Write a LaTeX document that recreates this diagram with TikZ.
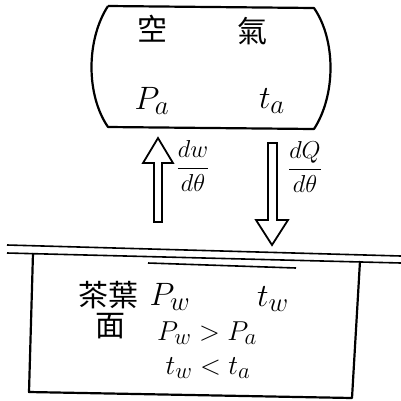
\documentclass[tikz,border=0pt]{standalone}
\usepackage{fontspec}
\newfontfamily\cjk{Noto Sans CJK TC}
\newcommand{\sclmath}[2]{\scalebox{#1}{$#2$}}
\newcommand{\sclcjk}[1]{\scalebox{1.25}{\cjk #1}}
\begin{document}
\begin{tikzpicture}[x=1pt,y=-1pt,
  edge/.style={line width=2.2pt,line join=round},
  thin/.style={line width=1.6pt},
  barrow/.style={line width=1.8pt,line join=miter,fill=white},
  cjkl/.style={font=\fontsize{24}{24}\selectfont,inner sep=0pt},
  mlab/.style={font=\fontsize{24.88}{25}\selectfont,inner sep=0pt},
  flab/.style={font=\fontsize{20.74}{21}\selectfont,inner sep=0pt}]
\useasboundingbox (0,0) rectangle (401,400);
% air box
\draw[edge] (108,6) -- (314,8) .. controls (336,40) and (336,95) .. (314,129)
  -- (108,127) .. controls (86,95) and (86,40) .. (108,6);
\node[cjkl] (kong) at (152,29) {\sclcjk{空}};
\node[cjkl] (qi) at (252,31) {\sclcjk{氣}};
\node[mlab] (pa) at (152,101) {\sclmath{1.3}{P_a}};
\node[mlab] (ta) at (272,101) {\sclmath{1.3}{t_a}};
% arrows
\draw[barrow] (158,138) -- (173,163) -- (162,163) -- (162,222) -- (154,222)
  -- (154,163) -- (143,163) -- cycle;
\draw[barrow] (272,245) -- (288,220) -- (277,220) -- (277,143) -- (268,143)
  -- (268,220) -- (256,220) -- cycle;
\node[flab] (dw) at (193,166) {\sclmath{1.18}{\displaystyle\frac{dw}{d\theta}}};
\node[flab] (dq) at (305,167) {\sclmath{1.18}{\displaystyle\frac{dQ}{d\theta}}};
% surface lines
\draw[thin] (7,245) -- (401,256);
\draw[thin] (7,253) -- (401,263);
% leaf box
\draw[edge] (33,253) -- (29,392) -- (352,398) -- (360,261);
\draw[thin] (148,263) -- (296,268);
\node[cjkl] (cha) at (108,295) {\sclcjk{茶葉}};
\node[cjkl] (mian) at (110,326) {\sclcjk{面}};
\node[mlab] (pw) at (170,297) {\sclmath{1.3}{P_w}};
\node[mlab] (tw) at (273,299) {\sclmath{1.3}{t_w}};
\node[mlab] (ineq1) at (207,333) {\sclmath{1.1}{P_w > P_a}};
\node[mlab] (ineq2) at (208,368) {\sclmath{1.1}{t_w < t_a}};
\end{tikzpicture}
\end{document}
